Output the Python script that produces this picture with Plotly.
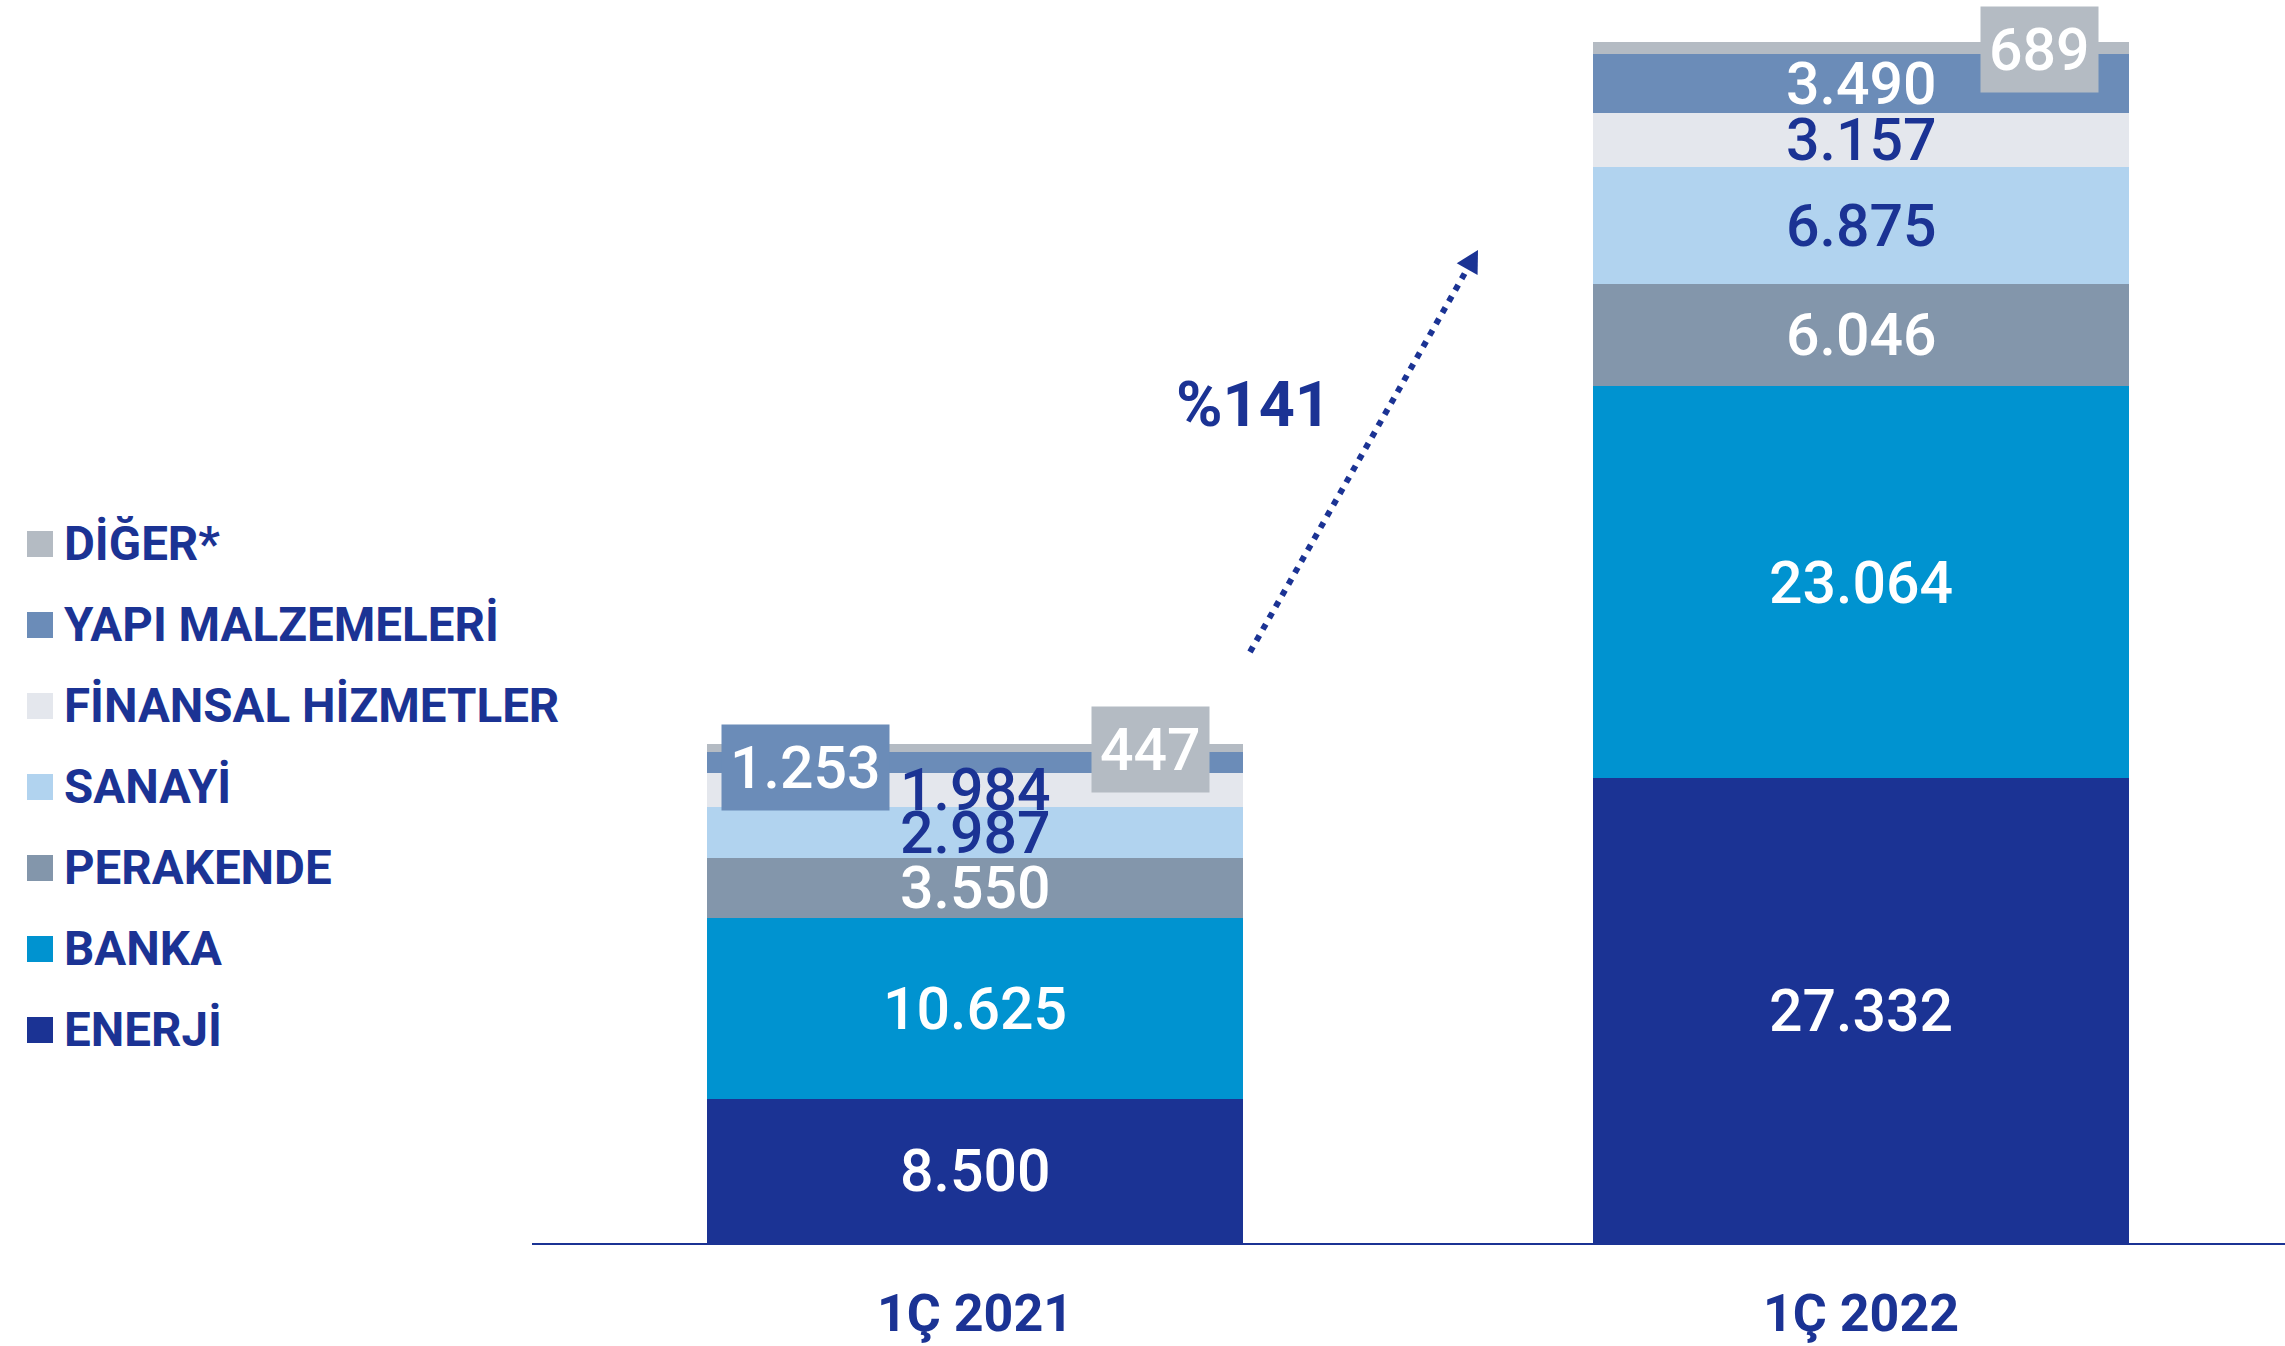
import numpy as np
import plotly.graph_objects as go

# ---- data -------------------------------------------------------------
periods = ["1Ç 2021", "1Ç 2022"]
sectors = ["ENERJİ", "BANKA", "PERAKENDE", "SANAYİ",
           "FİNANSAL HİZMETLER", "YAPI MALZEMELERİ", "DİĞER*"]
values_2021 = [8500, 10625, 3550, 2987, 1984, 1253, 447]
values_2022 = [27332, 23064, 6046, 6875, 3157, 3490, 689]

# ---- styling ----------------------------------------------------------
NAVY = "#1b3394"
colors = ["#1b3394", "#0093d0", "#8396ab", "#b1d3ef",
          "#e4e7ed", "#6b8cb8", "#b4bbc3"]
label_colors = ["white", "white", "white", NAVY, NAVY, "white", "white"]
FONT = "Roboto"

W, H = 2285, 1346
M_L, M_R, M_T, M_B = 532, 0, 0, 103
PLOT_W, PLOT_H = W - M_L - M_R, H - M_T - M_B
PX_PER_CAT = 886.0                    # distance between the two bars
PX_PER_VAL = 0.016998                 # vertical scale (px per unit)
X0 = -0.5
X1 = X0 + PLOT_W / PX_PER_CAT
Y_MAX = PLOT_H / PX_PER_VAL
BAR_W = 536 / PX_PER_CAT


def fmt(v):
    return f"{v:,}".replace(",", ".")


def data_to_px(x, y):
    return M_L + (x - X0) * PX_PER_CAT, M_T + PLOT_H - y * PX_PER_VAL


def px_to_data(px, py):
    return X0 + (px - M_L) / PX_PER_CAT, (M_T + PLOT_H - py) / PX_PER_VAL


series = np.array([values_2021, values_2022]).T     # sector x period
x_pos = np.arange(len(periods))

fig = go.Figure()
for i, name in enumerate(sectors):
    fig.add_trace(go.Bar(
        x=x_pos, y=series[i], name=name, width=BAR_W,
        marker=dict(color=colors[i], line=dict(width=0)),
        showlegend=False, hoverinfo="skip",
    ))

# ---- value labels -----------------------------------------------------
tops = np.cumsum(series, axis=0)
mids = tops - series / 2.0

# small slices get a boxed label shifted beside the bar
callouts = {
    (5, 0): dict(xshift=-170, yshift=-5, bg=colors[5]),
    (6, 0): dict(xshift=175, yshift=-2, bg=colors[6]),
    (6, 1): dict(xshift=178, yshift=-2, bg=colors[6]),
}
LABEL_FONT = dict(family=FONT, size=59, weight=500)
for i in range(len(sectors)):
    for j in range(len(periods)):
        text = fmt(int(series[i, j]))
        if (i, j) in callouts:
            c = callouts[(i, j)]
            fig.add_annotation(
                x=x_pos[j], y=mids[i, j], text=text, showarrow=False,
                xshift=c["xshift"], yshift=c["yshift"],
                bgcolor=c["bg"], borderpad=8,
                font=dict(LABEL_FONT, color="white"))
        else:
            fig.add_annotation(
                x=x_pos[j], y=mids[i, j], text=text, showarrow=False,
                font=dict(LABEL_FONT, color=label_colors[i]))

# ---- growth arrow -----------------------------------------------------
totals = series.sum(axis=0)
growth = round((totals[1] / totals[0] - 1) * 100)

tail = px_to_data(1250, 652)
tip = px_to_data(1478, 250)
tx, ty = data_to_px(*tail)
hx, hy = data_to_px(*tip)
d = np.array([hx - tx, hy - ty])
d /= np.linalg.norm(d)
n = np.array([-d[1], d[0]])
head_len, head_half = 22, 12
base = np.array([hx, hy]) - d * head_len
c1 = base + n * head_half
c2 = base - n * head_half
bx, by = px_to_data(*base)
fig.add_shape(type="line", x0=tail[0], y0=tail[1], x1=bx, y1=by,
              line=dict(color=NAVY, width=6, dash="6px,7px"))
p1 = px_to_data(*c1)
p2 = px_to_data(*c2)
fig.add_shape(type="path",
              path=f"M {tip[0]},{tip[1]} L {p1[0]},{p1[1]} L {p2[0]},{p2[1]} Z",
              fillcolor=NAVY, line=dict(width=0))

lx, ly = px_to_data(1253, 404)
fig.add_annotation(x=lx, y=ly, text=f"<b>%{growth}</b>", showarrow=False,
                   font=dict(family=FONT, size=63, color=NAVY))

# ---- legend (top item = last series) -----------------------------------
leg_y0, leg_step = 544, 81
for k, i in enumerate(reversed(range(len(sectors)))):
    cy = leg_y0 + k * leg_step
    py_top = (M_T + PLOT_H - (cy - 13)) / PLOT_H
    py_bot = (M_T + PLOT_H - (cy + 13)) / PLOT_H
    fig.add_shape(type="rect", xref="paper", yref="paper",
                  x0=(27 - M_L) / PLOT_W, x1=(53 - M_L) / PLOT_W,
                  y0=py_bot, y1=py_top,
                  fillcolor=colors[i], line=dict(width=0))
    fig.add_annotation(xref="paper", yref="paper",
                       x=(62 - M_L) / PLOT_W, y=(M_T + PLOT_H - cy) / PLOT_H,
                       xanchor="left", yanchor="middle", showarrow=False,
                       text=f"<b>{sectors[i]}</b>",
                       font=dict(family=FONT, size=47.5, color=NAVY))

fig.update_layout(
    width=W, height=H,
    margin=dict(l=M_L, r=M_R, t=M_T, b=M_B, autoexpand=False),
    barmode="stack", bargap=0,
    plot_bgcolor="white", paper_bgcolor="white",
    font=dict(family=FONT, color=NAVY),
    xaxis=dict(range=[X0, X1], tickvals=list(x_pos),
               ticktext=[f"<b>{p}</b>" for p in periods],
               automargin=False,
               showgrid=False, zeroline=False, showline=True,
               linecolor=NAVY, linewidth=2, ticks="", ticklabelstandoff=24,
               tickfont=dict(family=FONT, size=52, color=NAVY), fixedrange=True),
    yaxis=dict(range=[0, Y_MAX], visible=False, fixedrange=True,
               automargin=False),
)

fig.write_html("out.html")
